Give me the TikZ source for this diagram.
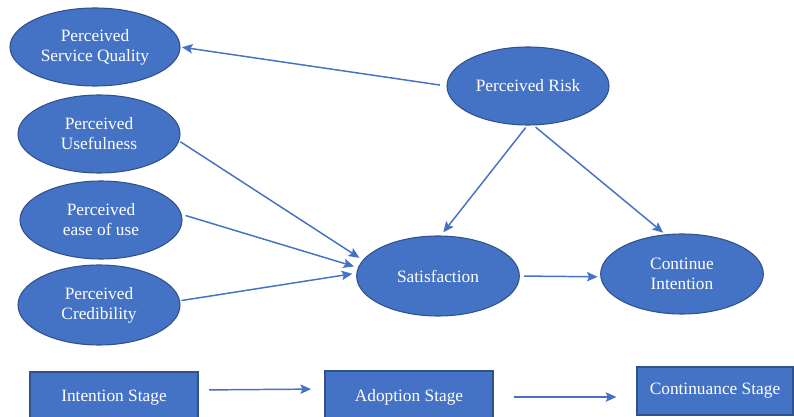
\documentclass[tikz,border=0pt]{standalone}
\usepackage{fontspec}
\setmainfont{Liberation Serif}
\usetikzlibrary{shapes.geometric, arrows.meta, calc}
\definecolor{officeBlue}{RGB}{68, 114, 196}
\definecolor{edgeBlue}{RGB}{47, 82, 143}

\begin{document}
\begin{tikzpicture}[
        x=0.75pt, y=-0.75pt,
        font=\fontsize{13}{15}\selectfont,
        construct/.style={ellipse, draw=edgeBlue, fill=officeBlue, line width=0.8pt, text=white, align=center, inner sep=0pt, minimum width=121.5pt, minimum height=58.5pt},
        stagebox/.style={rectangle, draw=edgeBlue, fill=officeBlue, line width=0.8pt, text=white, align=center, inner sep=0pt, minimum width=126pt, minimum height=39pt},
        arrow/.style={-{Stealth[length=8pt, width=7pt, inset=1.5pt]}, officeBlue, line width=1.1pt}
    ]
        \useasboundingbox (0,0) rectangle (794,417);

        % Constructs
        \node[construct, minimum width=127.5pt] (psq) at (95,47) {Perceived\\Service Quality};
        \node[construct] (pu) at (99,134) {Perceived\\Usefulness};
        \node[construct] (peou) at (101,220) {Perceived\\ease of use};
        \node[construct, minimum height=60pt] (pc) at (99,305) {Perceived\\Credibility};
        \node[construct] (pr) at (528,86) {Perceived Risk};
        \node[construct, minimum width=122pt, minimum height=60pt] (sat) at (438,276) {Satisfaction};
        \node[construct, minimum width=122pt, minimum height=60pt] (ci) at (682,274) {Continue\\Intention};

        % Stages (bottom edges run off the page)
        \node[stagebox] (intent) at (114,398) {Intention Stage};
        \node[stagebox] (adopt) at (409,397) {Adoption Stage};
        \node[stagebox, minimum width=117pt, minimum height=36pt] (cont) at (715,391) {Continuance Stage};

        \draw[arrow, shorten <=5pt, shorten >=1pt] (pr.west) -- (psq.east);
        \draw[arrow, shorten <=1pt, shorten >=3pt] (pu.-5) -- (sat.168);
        \draw[arrow, shorten <=3pt, shorten >=3pt] (peou.4) -- (sat.174);
        \draw[arrow, shorten <=1pt, shorten >=3pt] (pc.3) -- (sat.178);
        \draw[arrow, shorten <=2pt, shorten >=3pt] (pr.-91) -- (sat.86);
        \draw[arrow, shorten <=2pt, shorten >=2pt] (pr.-82) -- (ci.113);
        \draw[arrow, shorten <=3pt, shorten >=2pt] (sat.east) -- (ci.182);

        \draw[arrow, shorten <=8pt, shorten >=10pt] ([yshift=6pt]intent.east) -- ([yshift=6pt]adopt.west);
        \draw[arrow, shorten <=15pt, shorten >=15pt] (adopt.east) -- (adopt.east -| cont.west);
\end{tikzpicture}
\end{document}
